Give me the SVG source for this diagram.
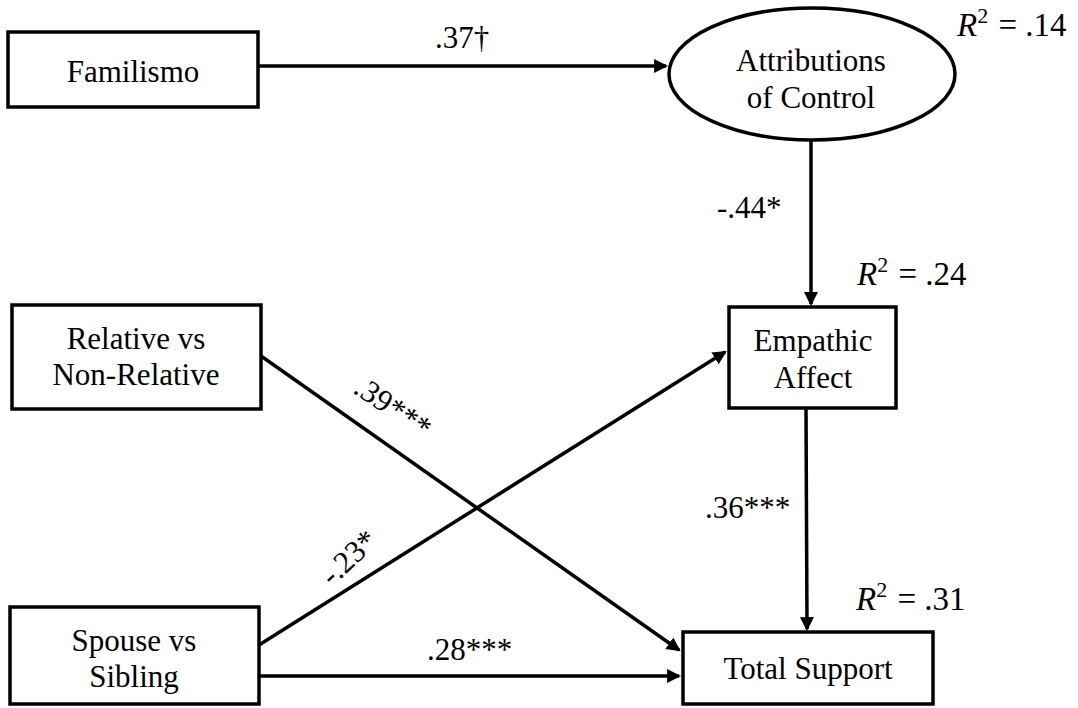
<svg xmlns="http://www.w3.org/2000/svg" width="1078" height="708" viewBox="0 0 1078 708">
  <style>
    .box { fill: #fff; stroke: #000; stroke-width: 3.5; }
    .edge { fill: none; stroke: #000; stroke-width: 3.5; marker-end: url(#arrow); }
    text { font-family: "Liberation Serif", "Times New Roman", serif; font-size: 31px; fill: #000; }
    .c { text-anchor: middle; }
    .r2 { font-size: 33px; }
    .sup { font-size: 22px; }
  </style>
  <defs>
    <marker id="arrow" viewBox="0 0 10 10" refX="8.5" refY="5" markerWidth="4" markerHeight="4.3" orient="auto" markerUnits="strokeWidth">
      <path d="M0,0 L10,5 L0,10 Z" fill="#000"/>
    </marker>
  </defs>
  <rect width="1078" height="708" fill="#fff"/>

  <g id="connectors">
    <line class="edge" x1="258" y1="66" x2="666" y2="66"/>
    <line class="edge" x1="811" y1="140" x2="811" y2="304"/>
    <line class="edge" x1="261" y1="356" x2="679" y2="650"/>
    <line class="edge" x1="259" y1="645" x2="725" y2="352"/>
    <line class="edge" x1="806" y1="408" x2="807" y2="629"/>
    <line class="edge" x1="259" y1="676" x2="679" y2="676"/>
  </g>

  <g id="labels">
    <text x="435" y="48">.37†</text>
    <text x="717" y="218">-.44*</text>
    <text x="705" y="518">.36***</text>
    <text x="427" y="660">.28***</text>
    <text transform="translate(352,392) rotate(34)">.39***</text>
    <text transform="translate(332,587) rotate(-43)">-.23*</text>
    <text class="r2" x="957" y="36"><tspan font-style="italic">R</tspan><tspan class="sup" dy="-13">2</tspan><tspan dy="13" dx="2"> = .14</tspan></text>
    <text class="r2" x="857" y="285"><tspan font-style="italic">R</tspan><tspan class="sup" dy="-13">2</tspan><tspan dy="13" dx="2"> = .24</tspan></text>
    <text class="r2" x="856" y="610"><tspan font-style="italic">R</tspan><tspan class="sup" dy="-13">2</tspan><tspan dy="13" dx="2"> = .31</tspan></text>
  </g>

  <g id="familismo">
    <rect class="box" x="8" y="32" width="250" height="75"/>
    <text class="c" x="133" y="82">Familismo</text>
  </g>
  <g id="attributions">
    <ellipse class="box" cx="812" cy="74" rx="143" ry="66"/>
    <text class="c" x="811" y="71">Attributions</text>
    <text class="c" x="811" y="108">of Control</text>
  </g>
  <g id="relative">
    <rect class="box" x="12" y="305" width="249" height="104"/>
    <text class="c" x="136" y="349">Relative vs</text>
    <text class="c" x="136" y="385">Non-Relative</text>
  </g>
  <g id="empathic">
    <rect class="box" x="729" y="307" width="167" height="101"/>
    <text class="c" x="813" y="351">Empathic</text>
    <text class="c" x="813" y="388">Affect</text>
  </g>
  <g id="spouse">
    <rect class="box" x="10" y="607" width="249" height="97"/>
    <text class="c" x="134" y="651">Spouse vs</text>
    <text class="c" x="134" y="687">Sibling</text>
  </g>
  <g id="total">
    <rect class="box" x="683" y="632" width="250" height="72"/>
    <text class="c" x="808" y="679">Total Support</text>
  </g>
</svg>
